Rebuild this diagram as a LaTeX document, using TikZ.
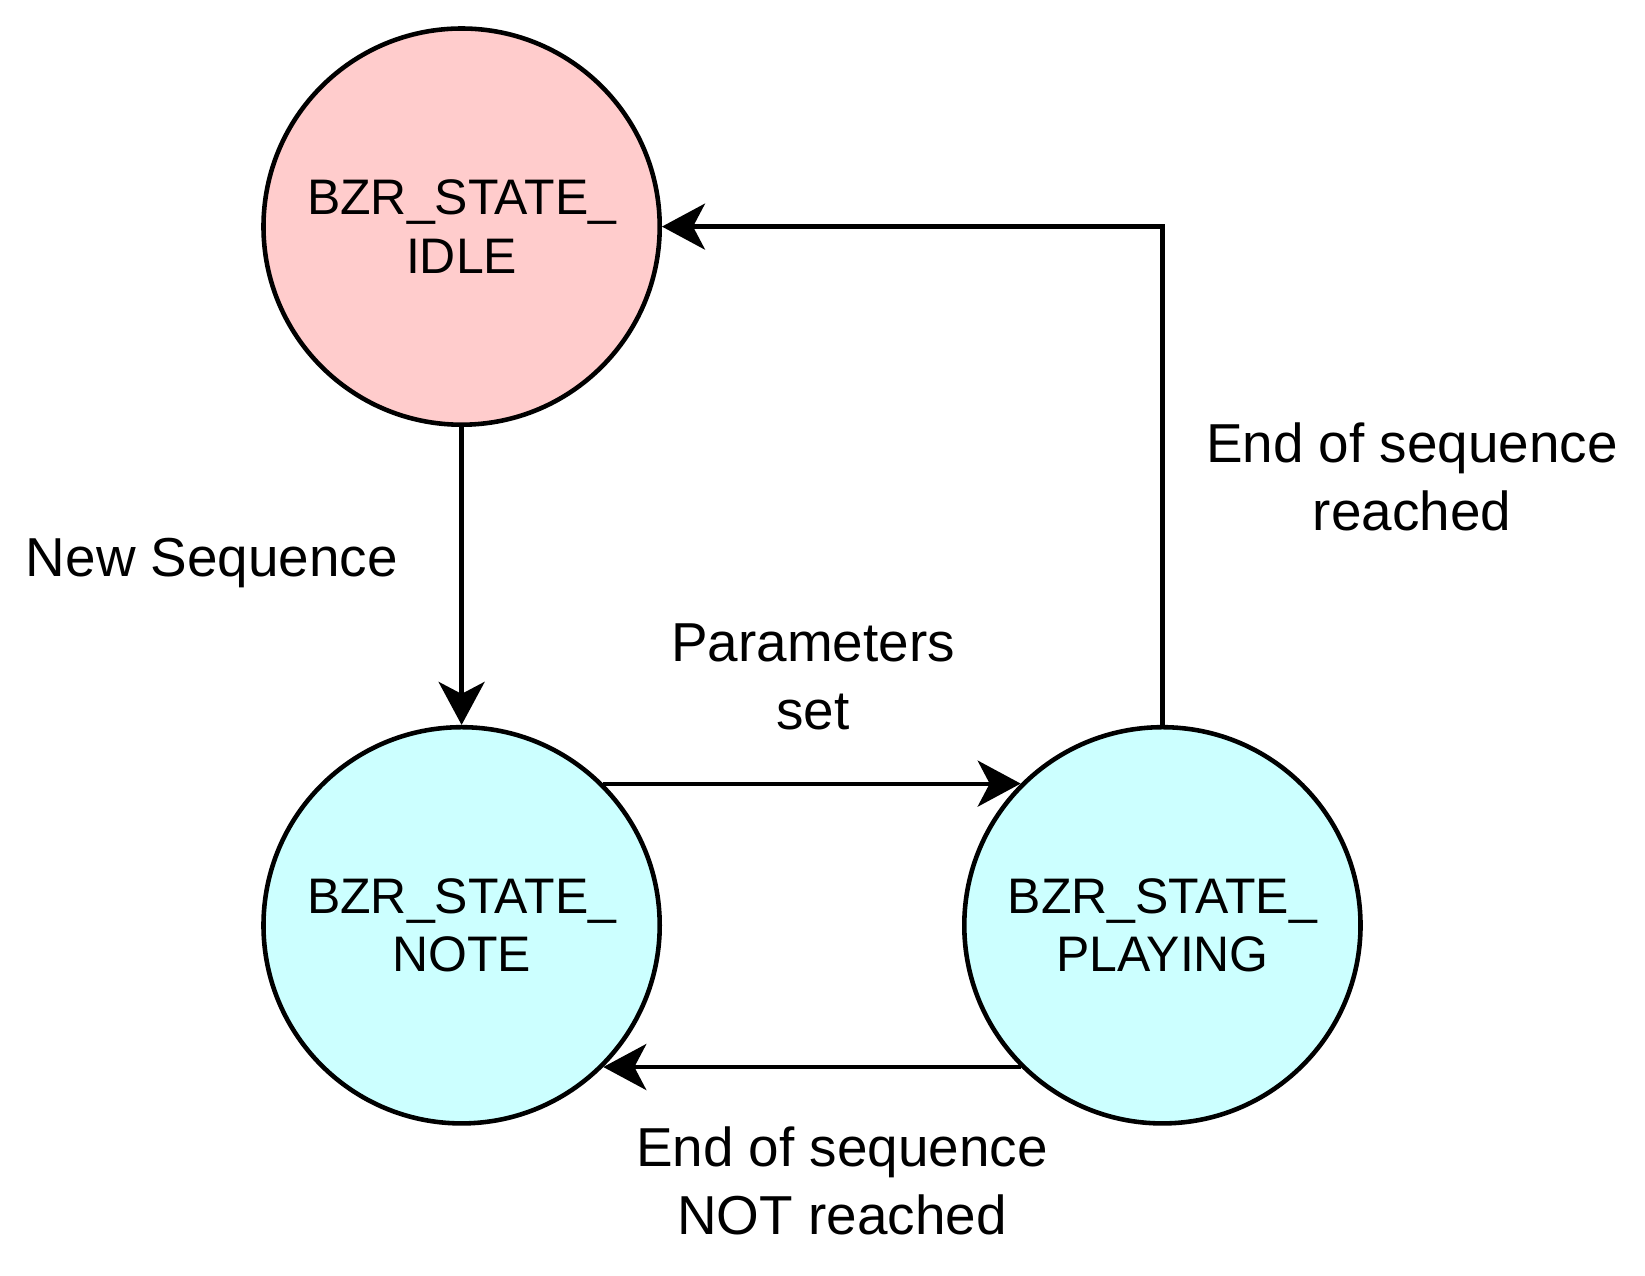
\documentclass[tikz,border=0pt]{standalone}
\usepackage{fontspec}
\setmainfont{Liberation Sans}
\usepackage{xcolor}
\usepackage{tikz}
\usetikzlibrary{arrows.meta}
\definecolor{idlered}{HTML}{FFCCCC}
\definecolor{runcyan}{HTML}{CCFFFF}

\begin{document}
\begin{tikzpicture}[
            x=0.01cm, y=-0.01cm,
            state/.style={
                draw=black,
                circle,
                minimum size=3.96cm,
                inner sep=0pt,
                align=center,
                line width=1.3pt,
                font=\fontsize{14.2pt}{16.6pt}\selectfont
            },
            idlestate/.style={state, fill=idlered},
            runstate/.style={state, fill=runcyan},
            lbl/.style={align=center, inner sep=0pt, font=\fontsize{15.6pt}{19.3pt}\selectfont},
            trans/.style={line width=1.2pt, -{Stealth[length=0.43cm, width=0.46cm, inset=0.12cm]}}
        ]

        \useasboundingbox (0,0) rectangle (1645,1275);

        \node[idlestate] (idle)    at (461.6, 226.6) {BZR\_STATE\_\\IDLE};
        \node[runstate]  (note)    at (461.6, 925.3) {BZR\_STATE\_\\NOTE};
        \node[runstate]  (playing) at (1162.4, 925.3) {BZR\_STATE\_\\PLAYING};

        \node[lbl] (newseq)  at (212, 563)  {New Sequence};
        \node[lbl] (params)  at (813, 677)  {Parameters\\set};
        \node[lbl] (endseq)  at (1412, 477) {End of sequence\\reached};
        \node[lbl] (notend)  at (842, 1181) {End of sequence\\NOT reached};

        \draw[trans] (idle) -- (note);
        \draw[trans] (note.45) -- (playing.135);
        \draw[trans] (playing.-135) -- (note.-45);
        \draw[trans] (playing.north) |- (idle.east);
        \end{tikzpicture}
\end{document}
